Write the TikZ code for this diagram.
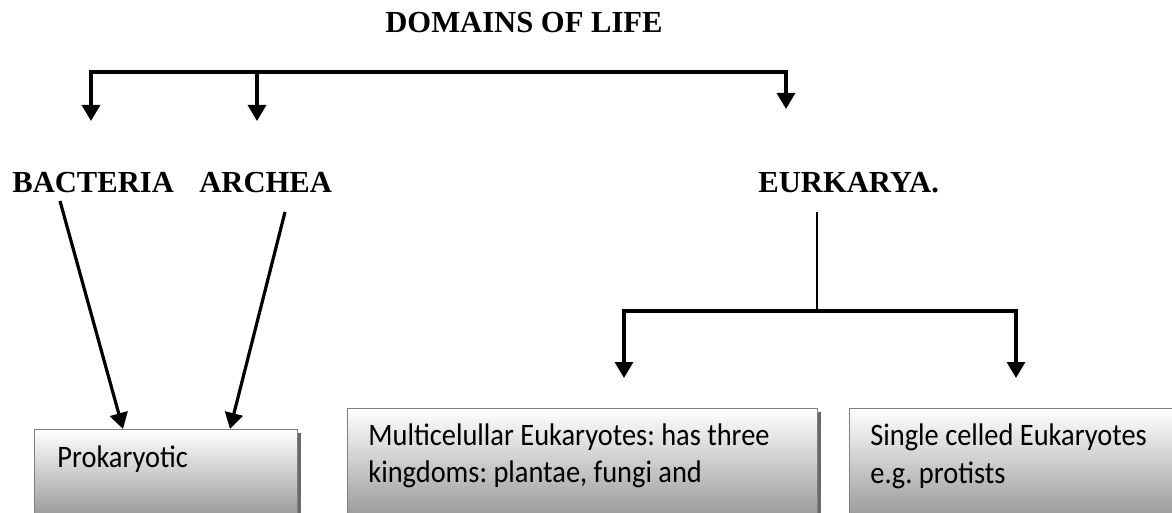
\documentclass[tikz,border=0pt]{standalone}
\usepackage{fontspec}
\setmainfont{Liberation Serif}
\newfontfamily\boxfont{Carlito}
\usetikzlibrary{arrows.meta, shadows}
\definecolor{boxline}{RGB}{128, 128, 128}
\definecolor{boxbottom}{RGB}{150, 150, 150}
\definecolor{boxshadow}{RGB}{105, 105, 105}
\newcommand{\tall}[1]{\scalebox{1}[1.1]{#1}}
\frenchspacing

\begin{document}
\begin{tikzpicture}[x=0.5pt, y=-0.5pt,
    head/.style={font=\fontsize{15.3}{18}\selectfont\bfseries,
      inner sep=0pt, anchor=base west},
    boxtext/.style={font=\boxfont\fontsize{14.2}{18.5}\selectfont,
      inner sep=0pt, anchor=base west},
    arr/.style={line width=1.6pt, -{Triangle[width=9pt, length=8pt]}},
    twoarr/.style={line width=1.6pt,
      {Triangle[width=9pt, length=8pt]}-{Triangle[width=9pt, length=8pt]}},
    card/.style={draw=boxline, line width=0.5pt, top color=white,
      bottom color=boxbottom, anchor=north west, inner sep=0pt,
      drop shadow={shadow xshift=1.5pt, shadow yshift=-1.5pt,
        fill=boxshadow, opacity=1}}]
  \useasboundingbox (0, 0) rectangle (1172, 513);

  % Title and domains
  \node[head] (title) at (385, 33) {DOMAINS OF LIFE};
  \node[head] (bac) at (12, 193) {BACTERIA};
  \node[head] (arc) at (199, 193) {ARCHEA};
  \node[head] (euk) at (758, 193) {EURKARYA.};

  % Top bracket
  \coordinate (tl) at (91, 72);
  \coordinate (tr) at (786, 72);
  \coordinate (bacin) at (91, 121);
  \coordinate (arcin) at (257, 121);
  \coordinate (eukin) at (786, 109);
  \draw[twoarr] (bacin) -- (tl) -- (tr) -- (eukin);
  \draw[arr] (arcin |- tl) -- (arcin);

  % Boxes
  \node[card, minimum width=131.5pt, minimum height=45pt] (prokbox) at (34, 429) {};
  \node[boxtext] (prok) at (57, 467) {\tall{Prokaryotic}};
  \node[card, minimum width=235pt, minimum height=56pt] (multibox) at (347, 408) {};
  \node[boxtext] (multi1) at (368, 445) {\tall{Multicelullar Eukaryotes: has three}};
  \node[boxtext] (multi2) at (368, 482) {\tall{kingdoms: plantae, fungi and}};
  \node[card, minimum width=170pt, minimum height=56pt] (singlebox) at (849, 408) {};
  \node[boxtext] (single1) at (870, 445) {\tall{Single celled Eukaryotes}};
  \node[boxtext] (single2) at (870, 483) {\tall{e.g. protists}};

  % Prokaryotes
  \coordinate (bacout) at (60, 201);
  \coordinate (arcout) at (285, 212);
  \coordinate (prokl) at (123, 429);
  \coordinate (prokr) at (230, 429);
  \draw[arr] (bacout) -- (prokl);
  \draw[arr] (arcout) -- (prokr);

  % Eukaryotes
  \coordinate (eukout) at (817, 212);
  \coordinate (eukj) at (817, 311);
  \coordinate (multiin) at (624, 378);
  \coordinate (singlein) at (1016, 378);
  \draw[line width=0.6pt] (eukout) -- (eukj);
  \draw[twoarr] (multiin) -- (multiin |- eukj) -- (singlein |- eukj) -- (singlein);
\end{tikzpicture}
\end{document}
